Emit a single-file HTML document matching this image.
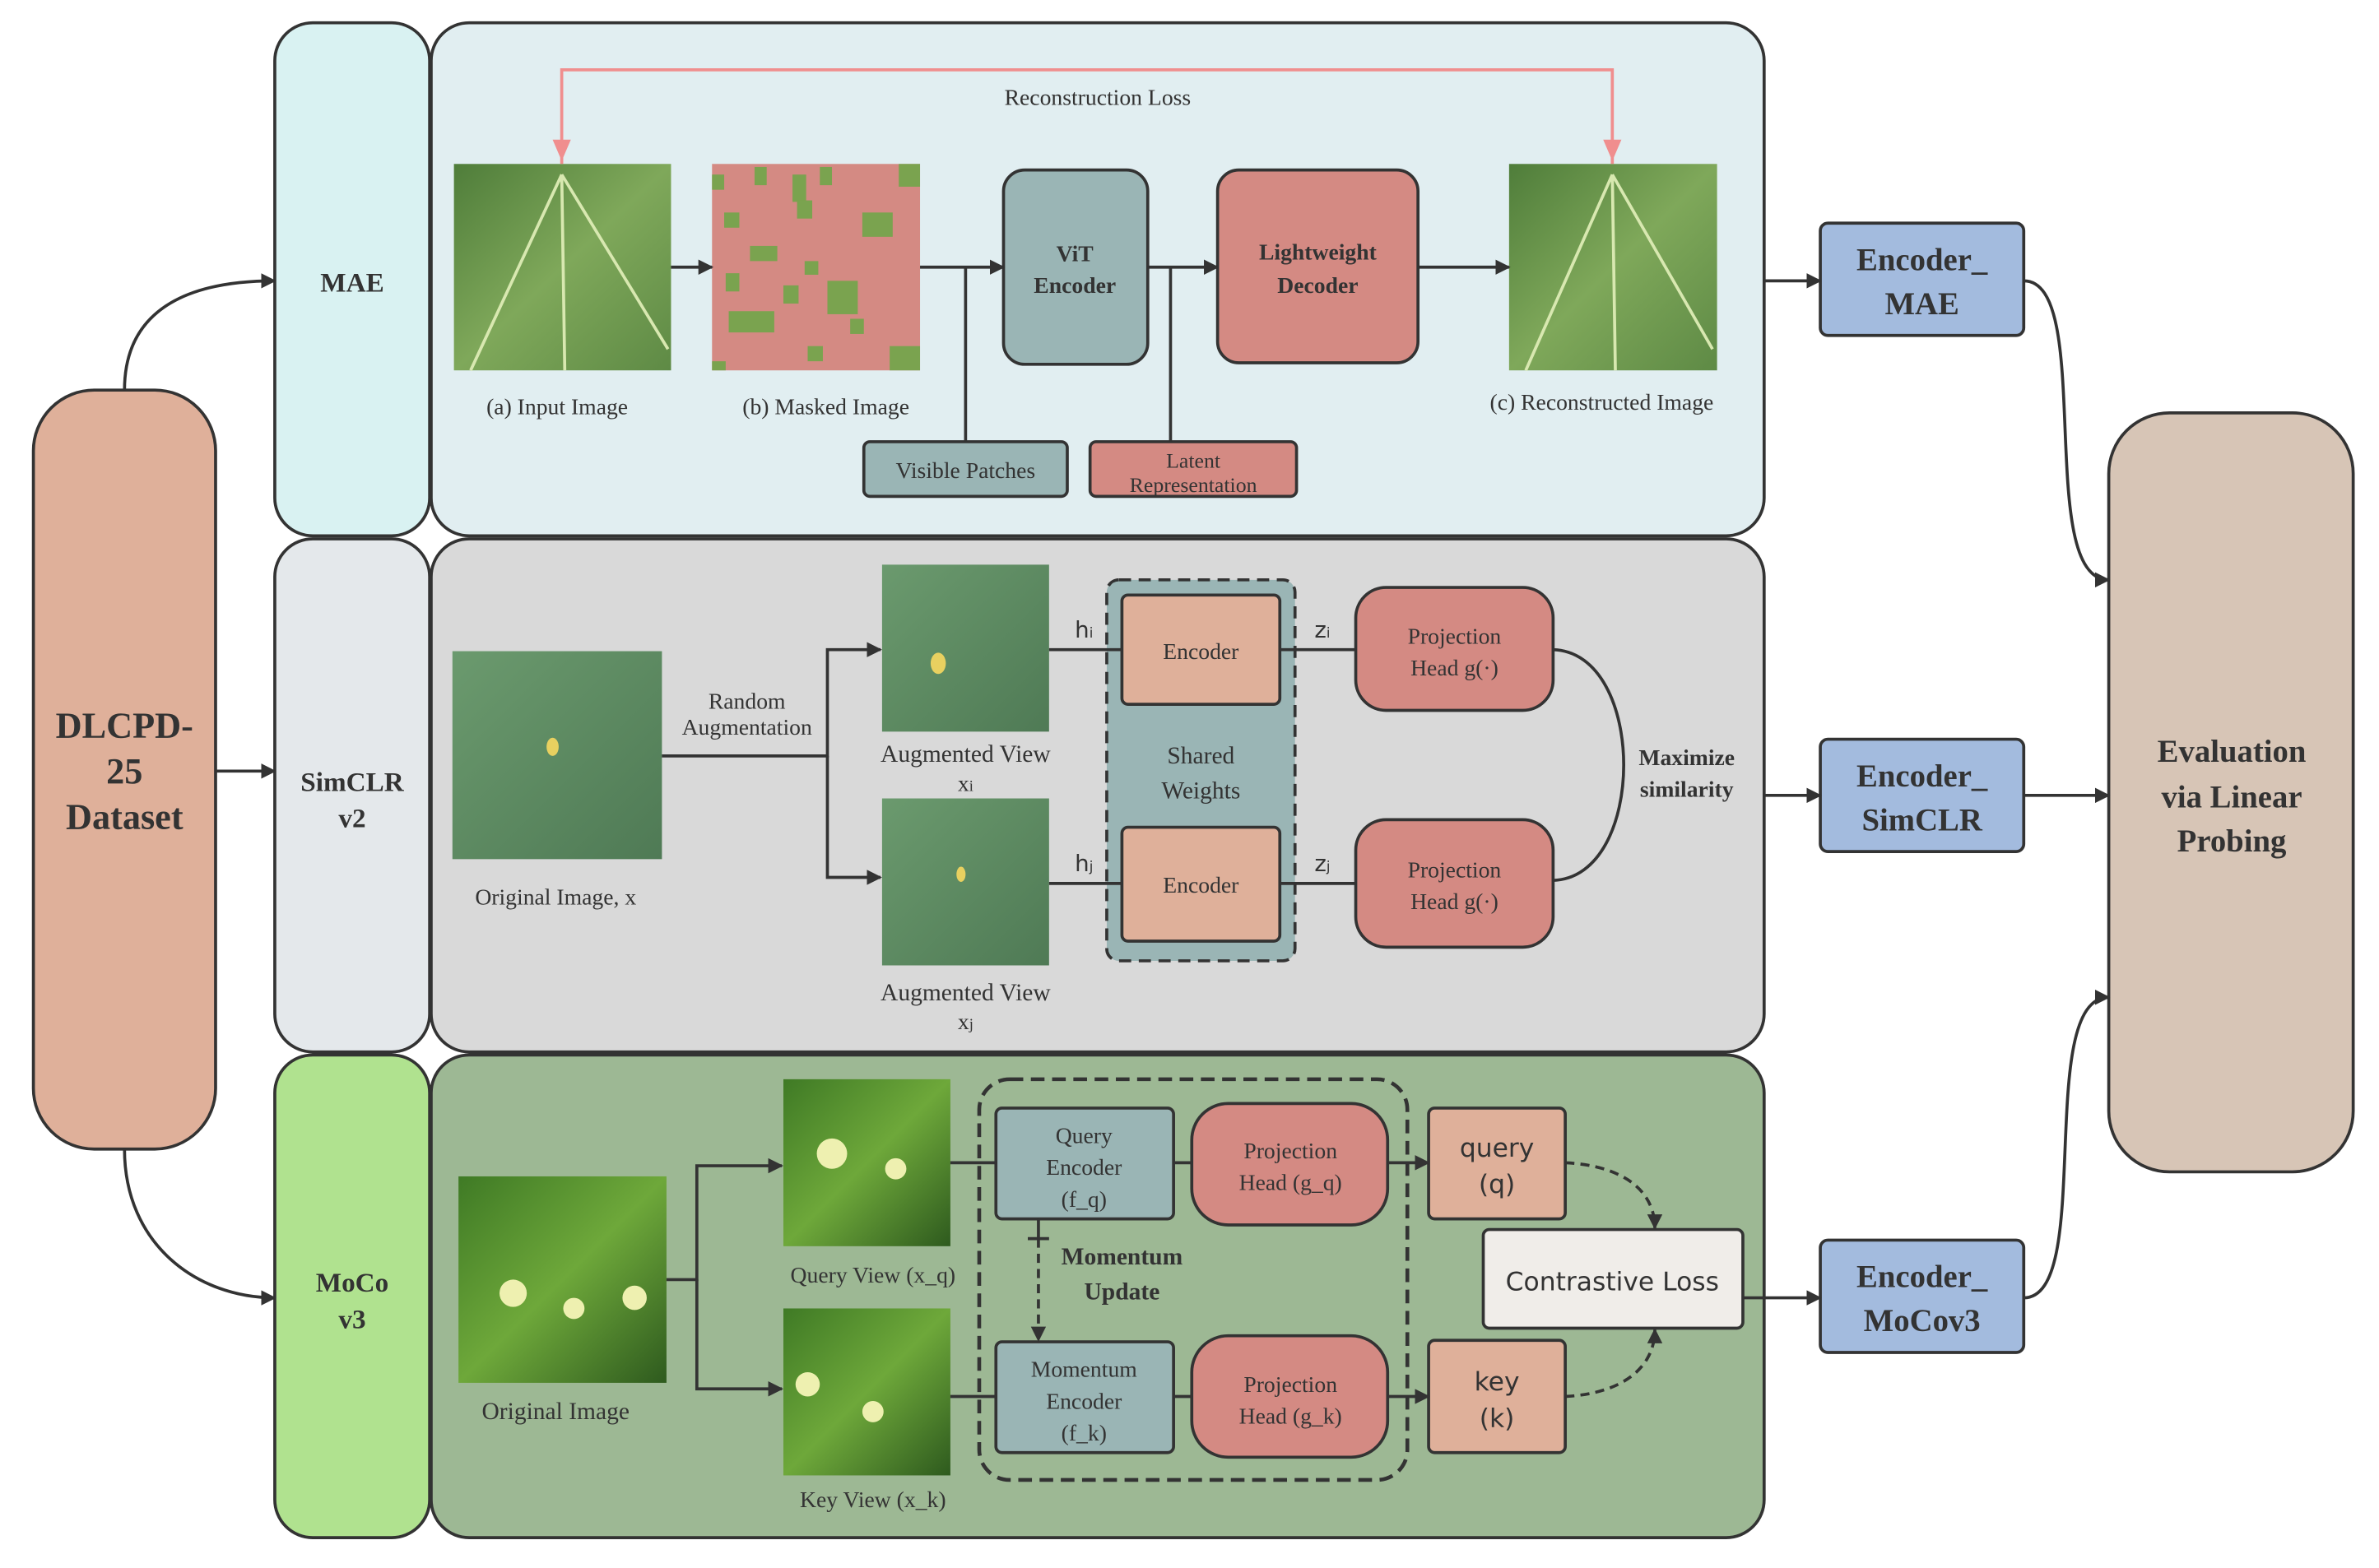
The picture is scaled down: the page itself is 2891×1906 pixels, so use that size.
<!DOCTYPE html>
<html><head><meta charset="utf-8"><style>
html,body{margin:0;padding:0;background:#fff;}
svg{display:block;}
text{font-family:"Liberation Serif",serif;fill:#333;}
.s{font-family:"DejaVu Sans","Liberation Sans",sans-serif;}
</style></head><body>
<svg width="2891" height="1906" viewBox="0 0 1567 1033" preserveAspectRatio="none" xmlns="http://www.w3.org/2000/svg">
<defs>
<marker id="a" markerWidth="10" markerHeight="10" refX="9" refY="5" orient="auto" markerUnits="userSpaceOnUse"><path d="M0,0 L10,5 L0,10z" fill="#333"/></marker>
<linearGradient id="leaf" x1="0" y1="0" x2="1" y2="1"><stop offset="0" stop-color="#4f7d3a"/><stop offset=".5" stop-color="#7fa85a"/><stop offset="1" stop-color="#5e8a45"/></linearGradient>
<linearGradient id="leaf2" x1="0" y1="0" x2="1" y2="1"><stop offset="0" stop-color="#6b9a6e"/><stop offset="1" stop-color="#4f7a55"/></linearGradient>
<linearGradient id="leaf3" x1="0" y1="0" x2="1" y2="1"><stop offset="0" stop-color="#3f7a25"/><stop offset=".5" stop-color="#6ea83a"/><stop offset="1" stop-color="#2e5a1e"/></linearGradient>
</defs>
<g stroke="#333" stroke-width="2">
<rect x="22" y="257" width="120" height="500" rx="40" fill="#dfb09a"/>
<rect x="181" y="15" width="102" height="338" rx="25" fill="#d9f2f2"/>
<rect x="284" y="15" width="878" height="338" rx="25" fill="#e1eef1"/>
<rect x="181" y="355" width="102" height="338" rx="25" fill="#e4e8eb"/>
<rect x="284" y="355" width="878" height="338" rx="25" fill="#d9d9d9"/>
<rect x="181" y="695" width="102" height="318" rx="25" fill="#b0e28f"/>
<rect x="284" y="695" width="878" height="318" rx="25" fill="#9db894"/>
<rect x="1199" y="147" width="134" height="74" rx="5" fill="#a3bbde"/>
<rect x="1199" y="487" width="134" height="74" rx="5" fill="#a3bbde"/>
<rect x="1199" y="817" width="134" height="74" rx="5" fill="#a3bbde"/>
<rect x="1389" y="272" width="161" height="500" rx="40" fill="#d7c5b6"/>
</g>
<g font-weight="bold" text-anchor="middle" font-size="24">
<text x="82" y="486">DLCPD-</text><text x="82" y="516">25</text><text x="82" y="546">Dataset</text>
<text x="1470" y="502" font-size="21">Evaluation</text><text x="1470" y="532" font-size="21">via Linear</text><text x="1470" y="561" font-size="21">Probing</text>
<text x="1266" y="178" font-size="21">Encoder_</text><text x="1266" y="207" font-size="21">MAE</text>
<text x="1266" y="518" font-size="21">Encoder_</text><text x="1266" y="547" font-size="21">SimCLR</text>
<text x="1266" y="848" font-size="21">Encoder_</text><text x="1266" y="877" font-size="21">MoCov3</text>
<text x="232" y="192" font-size="18">MAE</text>
<text x="232" y="521" font-size="18">SimCLR</text><text x="232" y="545" font-size="18">v2</text>
<text x="232" y="851" font-size="18">MoCo</text><text x="232" y="875" font-size="18">v3</text>
</g>
<g stroke="#333" stroke-width="2" fill="none" marker-end="url(#a)">
<path d="M82,257 C82,200 130,185 181,185"/>
<path d="M142,508 H181"/>
<path d="M82,757 C82,820 130,855 181,855"/>
<path d="M1162,185 H1199"/><path d="M1162,524 H1199"/><path d="M1148,855 H1199"/>
<path d="M1333,185 C1380,185 1340,382 1389,382"/>
<path d="M1333,524 H1389"/>
<path d="M1333,855 C1380,855 1340,657 1389,657"/>
</g>
<rect x="299" y="108" width="143" height="136" fill="url(#leaf)"/>
<path d="M370,115 L310,244 M370,115 L372,244 M370,115 L440,230" stroke="#d8e8b0" stroke-width="2"/>
<rect x="469" y="108" width="137" height="136" fill="#d48a83"/>
<g fill="#7aa34f">
<rect x="469" y="115" width="8" height="10"/><rect x="497" y="110" width="8" height="12"/><rect x="522" y="115" width="9" height="18"/><rect x="540" y="110" width="8" height="12"/><rect x="592" y="108" width="14" height="15"/><rect x="477" y="140" width="10" height="10"/><rect x="568" y="140" width="20" height="16"/><rect x="494" y="162" width="18" height="10"/><rect x="530" y="172" width="9" height="9"/><rect x="478" y="180" width="9" height="12"/><rect x="516" y="188" width="10" height="12"/><rect x="545" y="185" width="20" height="22"/><rect x="480" y="205" width="30" height="14"/><rect x="560" y="210" width="9" height="10"/><rect x="586" y="228" width="20" height="16"/><rect x="469" y="238" width="9" height="6"/><rect x="532" y="228" width="10" height="10"/><rect x="525" y="132" width="10" height="12"/></g>
<rect x="994" y="108" width="137" height="136" fill="url(#leaf)"/>
<path d="M1062,115 L1005,244 M1062,115 L1064,244 M1062,115 L1128,230" stroke="#d8e8b0" stroke-width="2"/>
<g stroke="#333" stroke-width="2">
<rect x="661" y="112" width="95" height="128" rx="14" fill="#9ab5b5"/>
<rect x="802" y="112" width="132" height="127" rx="14" fill="#d48a83"/>
<rect x="569" y="291" width="134" height="36" rx="4" fill="#9ab5b5"/>
<rect x="718" y="291" width="136" height="36" rx="4" fill="#d48a83"/>
</g>
<g stroke="#333" stroke-width="2" fill="none">
<path d="M442,176 H469" marker-end="url(#a)"/>
<path d="M606,176 H661" marker-end="url(#a)"/><path d="M636,176 V291"/>
<path d="M756,176 H802" marker-end="url(#a)"/><path d="M771,176 V291"/>
<path d="M934,176 H994" marker-end="url(#a)"/>
</g>
<path d="M370,108 V46 H1062 V108" stroke="#f08e8e" stroke-width="2" fill="none"/>
<path d="M364,92 L370,106 L376,92z M1056,92 L1062,106 L1068,92z" fill="#f08e8e"/>
<g text-anchor="middle" font-size="15">
<text x="723" y="69">Reconstruction Loss</text>
<text x="367" y="273">(a) Input Image</text><text x="544" y="273">(b) Masked Image</text>
<text x="1055" y="270">(c) Reconstructed Image</text>
<text x="708" y="172" font-weight="bold">ViT</text><text x="708" y="193" font-weight="bold">Encoder</text>
<text x="868" y="171" font-weight="bold">Lightweight</text><text x="868" y="193" font-weight="bold">Decoder</text>
<text x="636" y="315">Visible Patches</text>
<text x="786" y="308" font-size="14">Latent</text><text x="786" y="324" font-size="14">Representation</text>
</g>
<rect x="298" y="429" width="138" height="137" fill="url(#leaf2)"/>
<rect x="581" y="372" width="110" height="110" fill="url(#leaf2)"/>
<rect x="581" y="526" width="110" height="110" fill="url(#leaf2)"/>
<ellipse cx="364" cy="492" rx="4" ry="6" fill="#e8d060"/><ellipse cx="618" cy="437" rx="5" ry="7" fill="#e8d060"/><ellipse cx="633" cy="576" rx="3" ry="5" fill="#e8d060"/>
<rect x="729" y="382" width="124" height="251" rx="8" fill="#9ab5b5" stroke="#333" stroke-width="2" stroke-dasharray="8,5"/>
<g stroke="#333" stroke-width="2">
<rect x="739" y="392" width="104" height="72" rx="4" fill="#dfb09a"/>
<rect x="739" y="545" width="104" height="75" rx="4" fill="#dfb09a"/>
<rect x="893" y="387" width="130" height="81" rx="20" fill="#d48a83"/>
<rect x="893" y="540" width="130" height="84" rx="20" fill="#d48a83"/>
</g>
<g stroke="#333" stroke-width="2" fill="none">
<path d="M436,498 H545 V428 H580" marker-end="url(#a)"/>
<path d="M545,498 V578 H580" marker-end="url(#a)"/>
<path d="M691,428 H739 M843,428 H893 M691,582 H739 M843,582 H893"/>
<path d="M1023,428 C1085,430 1085,578 1023,580"/>
</g>
<g text-anchor="middle" font-size="15">
<text x="492" y="467">Random</text><text x="492" y="484">Augmentation</text>
<text x="366" y="596">Original Image, x</text>
<text x="636" y="502" font-size="16">Augmented View</text><text x="636" y="521">x<tspan font-size="10">i</tspan></text>
<text x="636" y="659" font-size="16">Augmented View</text><text x="636" y="678">x<tspan font-size="10">j</tspan></text>
<text x="791" y="434">Encoder</text><text x="791" y="588">Encoder</text>
<text x="791" y="503" font-size="16">Shared</text><text x="791" y="526" font-size="16">Weights</text>
<text x="958" y="424">Projection</text><text x="958" y="445">Head g(·)</text>
<text x="958" y="578">Projection</text><text x="958" y="599">Head g(·)</text>
<text x="1111" y="504" font-weight="bold">Maximize</text><text x="1111" y="525" font-weight="bold">similarity</text>
<text x="714" y="420" class="s" font-size="15">h<tspan font-size="9">i</tspan></text>
<text x="714" y="574" class="s" font-size="15">h<tspan font-size="9">j</tspan></text>
<text x="871" y="420" class="s" font-size="15">z<tspan font-size="9">i</tspan></text>
<text x="871" y="574" class="s" font-size="15">z<tspan font-size="9">j</tspan></text>
</g>
<rect x="302" y="775" width="137" height="136" fill="url(#leaf3)"/>
<rect x="516" y="711" width="110" height="110" fill="url(#leaf3)"/>
<rect x="516" y="862" width="110" height="110" fill="url(#leaf3)"/>
<g fill="#eef0b0"><circle cx="338" cy="852" r="9"/><circle cx="378" cy="862" r="7"/><circle cx="418" cy="855" r="8"/><circle cx="548" cy="760" r="10"/><circle cx="590" cy="770" r="7"/><circle cx="532" cy="912" r="8"/><circle cx="575" cy="930" r="7"/></g>
<rect x="645" y="711" width="282" height="264" rx="20" fill="none" stroke="#333" stroke-width="2.5" stroke-dasharray="9,5"/>
<g stroke="#333" stroke-width="2">
<rect x="656" y="730" width="117" height="73" rx="4" fill="#9ab5b5"/>
<rect x="656" y="884" width="117" height="73" rx="4" fill="#9ab5b5"/>
<rect x="785" y="727" width="129" height="80" rx="24" fill="#d48a83"/>
<rect x="785" y="880" width="129" height="80" rx="24" fill="#d48a83"/>
<rect x="941" y="730" width="90" height="73" rx="4" fill="#dfb09a"/>
<rect x="941" y="883" width="90" height="74" rx="4" fill="#dfb09a"/>
<rect x="977" y="810" width="171" height="65" rx="4" fill="#f0ede9"/>
</g>
<g stroke="#333" stroke-width="2" fill="none">
<path d="M439,843 H459 V768 H515" marker-end="url(#a)"/>
<path d="M459,843 V915 H515" marker-end="url(#a)"/>
<path d="M626,766 H656 M773,766 H785 M626,920 H656 M773,920 H785"/>
<path d="M914,766 H941" marker-end="url(#a)"/><path d="M914,920 H941" marker-end="url(#a)"/>
<path d="M1031,766 C1070,768 1090,785 1090,809" stroke-dasharray="6,4" marker-end="url(#a)"/>
<path d="M1031,920 C1070,918 1090,900 1090,876" stroke-dasharray="6,4" marker-end="url(#a)"/>
<path d="M684,803 V816 M677,816 H691"/>
<path d="M684,816 V883" stroke-dasharray="6,4" marker-end="url(#a)"/>
</g>
<g text-anchor="middle" font-size="15">
<text x="366" y="935" font-size="16">Original Image</text>
<text x="575" y="845">Query View (x_q)</text><text x="575" y="993">Key View (x_k)</text>
<text x="714" y="753">Query</text><text x="714" y="774">Encoder</text><text x="714" y="795">(f_q)</text>
<text x="714" y="907">Momentum</text><text x="714" y="928">Encoder</text><text x="714" y="949">(f_k)</text>
<text x="850" y="763">Projection</text><text x="850" y="784">Head (g_q)</text>
<text x="850" y="917">Projection</text><text x="850" y="938">Head (g_k)</text>
<text x="739" y="833" font-weight="bold" font-size="16">Momentum</text><text x="739" y="856" font-weight="bold" font-size="16">Update</text>
<text x="986" y="762" class="s" font-size="17">query</text><text x="986" y="786" class="s" font-size="17">(q)</text>
<text x="986" y="916" class="s" font-size="17">key</text><text x="986" y="940" class="s" font-size="17">(k)</text>
<text x="1062" y="850" class="s" font-size="17">Contrastive Loss</text>
</g>
</svg>
</body></html>
